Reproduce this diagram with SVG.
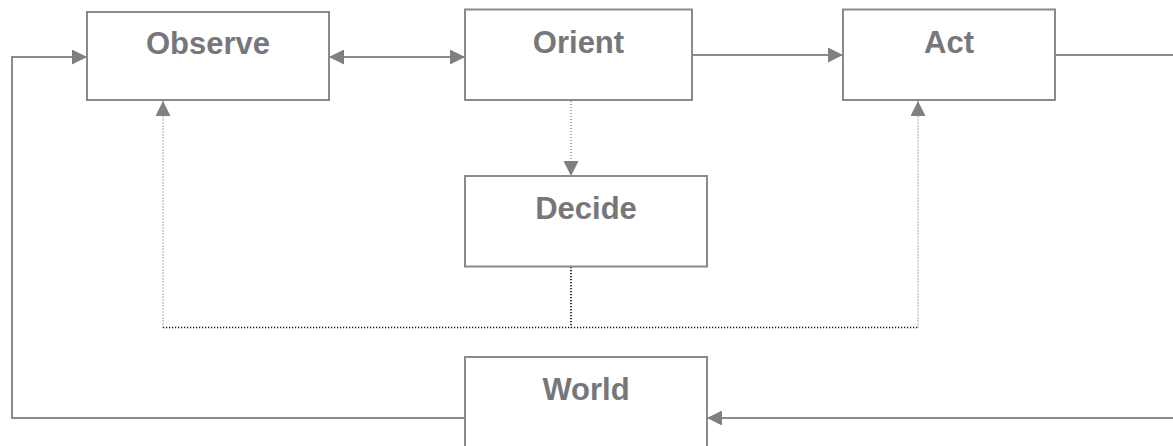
<svg xmlns="http://www.w3.org/2000/svg" width="1173" height="446" viewBox="0 0 1173 446">
  <style>
    .box { fill: #ffffff; stroke: #8a8a8a; stroke-width: 2; }
    .label { font-family: "Liberation Sans", Arial, sans-serif; font-weight: bold; font-size: 31px; fill: #77777b; text-anchor: middle; }
    .link { fill: none; stroke: #8a8a8a; stroke-width: 2; }
    .dot-grey { fill: none; stroke: #7a7a7a; stroke-width: 1.3; stroke-dasharray: 1 2; }
    .dot-dark { fill: none; stroke: #111111; stroke-width: 1.7; stroke-dasharray: 1.2 1.8; }
  </style>
  <defs>
    <marker id="arrow" viewBox="0 0 15 15" refX="15" refY="7.5" markerWidth="15" markerHeight="15" markerUnits="userSpaceOnUse" orient="auto-start-reverse">
      <path d="M0,0 L15,7.5 L0,15 z" fill="#808080"/>
    </marker>
  </defs>

  <rect width="1173" height="446" fill="#ffffff"/>

  <g id="connectors">
    <!-- World back round to Observe -->
    <path class="link" d="M465,418 H12 V57 H87" marker-end="url(#arrow)"/>
    <!-- Observe <-> Orient -->
    <path class="link" d="M329,57 H465" marker-start="url(#arrow)" marker-end="url(#arrow)"/>
    <!-- Orient -> Act -->
    <path class="link" d="M692,55 H843" marker-end="url(#arrow)"/>
    <!-- Act out and round to World -->
    <path class="link" d="M1055,55 H1185 V418 H707" marker-end="url(#arrow)"/>
    <!-- Orient -> Decide -->
    <path class="dot-grey" d="M571,101 V176" marker-end="url(#arrow)"/>
    <!-- Decide feedback bus -->
    <path class="dot-dark" d="M571,267 V327.5"/>
    <path class="dot-dark" d="M163,327.5 H918"/>
    <path class="dot-grey" d="M163,327.5 V101" marker-end="url(#arrow)"/>
    <path class="dot-grey" d="M918,327.5 V101" marker-end="url(#arrow)"/>
  </g>

  <g id="observe">
    <rect class="box" x="87" y="12" width="242" height="88"/>
    <text class="label" x="208" y="54">Observe</text>
  </g>
  <g id="orient">
    <rect class="box" x="465" y="9.5" width="227" height="90.5"/>
    <text class="label" x="578.5" y="52.5">Orient</text>
  </g>
  <g id="act">
    <rect class="box" x="843" y="9.5" width="212" height="90.5"/>
    <text class="label" x="949" y="52.5">Act</text>
  </g>
  <g id="decide">
    <rect class="box" x="465" y="176" width="242" height="90.5"/>
    <text class="label" x="586" y="218.5">Decide</text>
  </g>
  <g id="world">
    <rect class="box" x="465" y="357" width="242" height="100"/>
    <text class="label" x="586" y="399.5">World</text>
  </g>
</svg>
